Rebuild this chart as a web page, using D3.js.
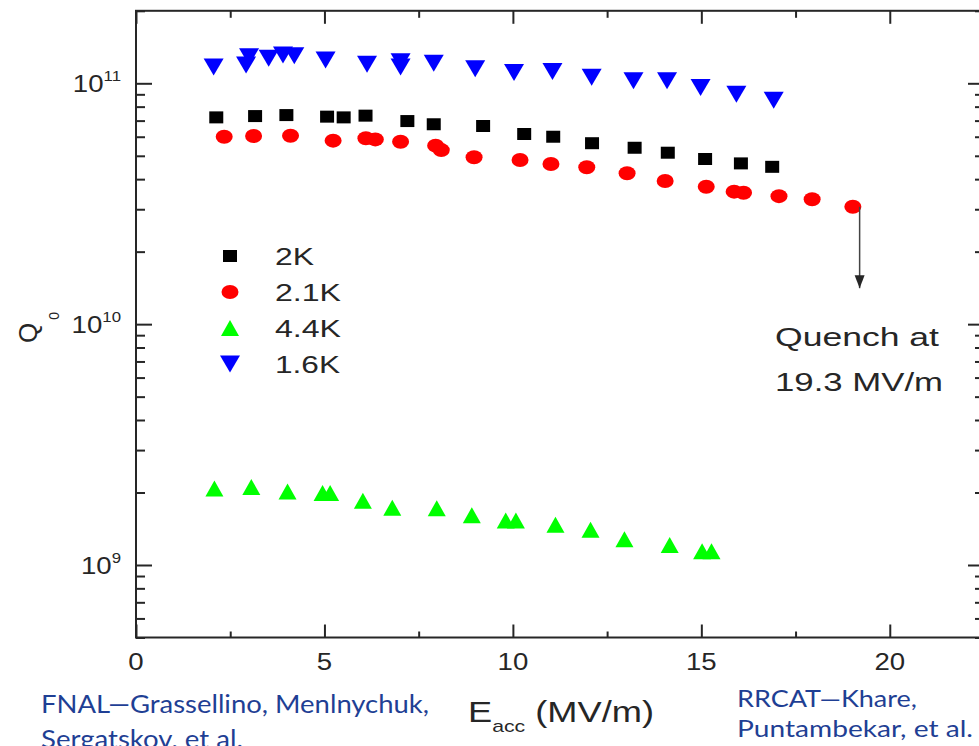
<!DOCTYPE html>
<html>
<head>
<meta charset="utf-8">
<script src="https://cdn.jsdelivr.net/npm/d3@7"></script>
<style>
  body { margin: 0; background: #fff; }
  svg { display: block; }
</style>
</head>
<body>
<div id="chart"></div>
<script>
// Q0 vs E_acc
const seriesNames = ["2K", "2.1K", "4.4K", "1.6K"];

const e2K = [2.13, 3.16, 3.99, 5.07, 5.51, 6.09, 7.2, 7.9, 9.21, 10.3, 11.07, 12.1, 13.23, 14.11, 15.1, 16.05, 16.88];
const q2K = [7.22e10, 7.31e10, 7.38e10, 7.27e10, 7.22e10, 7.34e10, 6.97e10, 6.76e10, 6.65e10, 6.16e10, 6.0e10, 5.64e10, 5.4e10, 5.15e10, 4.85e10, 4.65e10, 4.5e10];

const e21K = [2.34, 3.12, 4.1, 5.23, 6.1, 6.35, 7.02, 7.95, 8.1, 8.97, 10.19, 11.01, 11.96, 13.03, 14.04, 15.13, 15.87, 16.12, 17.06, 17.94, 19.02];
const q21K = [6.0e10, 6.04e10, 6.06e10, 5.78e10, 5.91e10, 5.85e10, 5.72e10, 5.51e10, 5.28e10, 4.93e10, 4.8e10, 4.62e10, 4.48e10, 4.23e10, 3.93e10, 3.72e10, 3.55e10, 3.51e10, 3.4e10, 3.3e10, 3.07e10];

const e44K = [2.08, 3.06, 4.02, 4.95, 5.15, 6.02, 6.8, 7.98, 8.91, 9.81, 10.08, 11.13, 12.06, 12.96, 14.16, 15.02, 15.27];
const q44K = [2.08e9, 2.11e9, 2.02e9, 1.99e9, 1.99e9, 1.85e9, 1.73e9, 1.72e9, 1.61e9, 1.53e9, 1.53e9, 1.47e9, 1.4e9, 1.28e9, 1.21e9, 1.14e9, 1.14e9];

const e16K = [2.06, 2.92, 3.0, 3.52, 3.9, 4.2, 5.03, 6.13, 7.02, 7.02, 7.9, 9.0, 10.03, 11.05, 12.09, 13.2, 14.09, 14.98, 15.93, 16.92];
const q16K = [1.17e11, 1.19e11, 1.29e11, 1.27e11, 1.31e11, 1.30e11, 1.25e11, 1.20e11, 1.23e11, 1.17e11, 1.21e11, 1.15e11, 1.11e11, 1.12e11, 1.06e11, 1.025e11, 1.025e11, 9.6e10, 9.0e10, 8.5e10];

const xTicks = [0, 5, 10, 15, 20];
const xMinorTicks = [2.5, 7.5, 12.5, 17.5];
const yTicks = [1e9, 1e10, 1e11];
const yExponents = ["9", "10", "11"];

// quench annotation (arrow from the last 2.1K point)
const quenchE = 19.2;
const quenchFrom = 3.07e10;
const quenchTo = 1.41e10;
const quenchText = ["Quench at", "19.3 MV/m"];

const captionLeft = ["FNAL\u2014Grassellino, Menlnychuk,", "Sergatskov, et al."];
const captionRight = ["RRCAT\u2014Khare,", "Puntambekar, et al."];

const seriesData = [
    {name: seriesNames[0], e: e2K, q: q2K},
    {name: seriesNames[1], e: e21K, q: q21K},
    {name: seriesNames[2], e: e44K, q: q44K},
    {name: seriesNames[3], e: e16K, q: q16K}
];

const width = 979;
const height = 746;
const ink = "#262626";
const font = "'Liberation Sans', Arial, sans-serif";
const sx = 1.2; // the original picture is stretched sideways

// look of each series
const style = {
    "2K":   {color: "#000000", shape: "M-7,-6H7V6H-7Z"},
    "2.1K": {color: "#ff0000", shape: "ellipse"},
    "4.4K": {color: "#00ff00", shape: "M0,-8L9,8H-9Z"},
    "1.6K": {color: "#0000ff", shape: "M-10,-8.5H10L0,8.5Z"}
};

const x = d3.scaleLinear().domain([0, 22.5]).range([136, 984]);
const y = d3.scaleLog().domain([5e8, 2e11]).range([637.5, 10.8]);

const svg = d3.select("#chart").append("svg")
    .attr("width", width)
    .attr("height", height)
    .attr("viewBox", [0, 0, width, height])
    .style("background", "#fff");

// ticks, all pointing inward
function ticks(axis, translate, size, values) {
    const g = svg.append("g")
        .attr("transform", translate)
        .call(axis.tickValues(values).tickSize(-size).tickSizeOuter(0).tickFormat(""));
    g.select(".domain").remove();
    g.selectAll(".tick line").attr("stroke", ink).attr("stroke-width", 2);
    return g;
}

const yMinorTicks = y.ticks().filter(v => !yTicks.includes(v));

ticks(d3.axisBottom(x), `translate(0,${y.range()[0]})`, 13, xTicks);
ticks(d3.axisBottom(x), `translate(0,${y.range()[0]})`, 6, xMinorTicks);
ticks(d3.axisTop(x), `translate(0,${y.range()[1]})`, 13, xTicks);
ticks(d3.axisTop(x), `translate(0,${y.range()[1]})`, 7, xMinorTicks);
ticks(d3.axisLeft(y), `translate(${x.range()[0]},0)`, 16, yTicks);
ticks(d3.axisLeft(y), `translate(${x.range()[0]},0)`, 9, yMinorTicks);
ticks(d3.axisRight(y), `translate(${x.range()[1]},0)`, 16, yTicks);
ticks(d3.axisRight(y), `translate(${x.range()[1]},0)`, 9, yMinorTicks);

// frame
svg.append("rect")
    .attr("x", x.range()[0])
    .attr("y", y.range()[1])
    .attr("width", x.range()[1] - x.range()[0])
    .attr("height", y.range()[0] - y.range()[1])
    .attr("fill", "none")
    .attr("stroke", ink)
    .attr("stroke-width", 2);

// x tick labels
svg.append("g")
    .selectAll("text")
    .data(xTicks)
    .join("text")
    .attr("transform", d => `translate(${x(d)},${y.range()[0] + 32}) scale(${sx},1)`)
    .attr("text-anchor", "middle")
    .attr("font-family", font)
    .attr("font-size", 23)
    .attr("fill", ink)
    .text(d => d);

// y tick labels with exponent
const yLab = svg.append("g")
    .selectAll("text")
    .data(yTicks)
    .join("text")
    .attr("transform", d => `translate(121,${y(d) + 9}) scale(${sx},1)`)
    .attr("text-anchor", "end")
    .attr("font-family", font)
    .attr("fill", ink);
yLab.append("tspan").attr("font-size", 23).text("10");
yLab.append("tspan").attr("font-size", 14).attr("dy", -11).text((d, i) => yExponents[i]);

// Q0 label
const qLab = svg.append("text")
    .attr("transform", "translate(37,343) rotate(-90)")
    .attr("font-family", font)
    .attr("fill", ink);
qLab.append("tspan").attr("font-size", 26).text("Q");
qLab.append("tspan").attr("font-size", 14).attr("dx", 3).attr("dy", 22).text("0");

// E_acc label
const eLab = svg.append("text")
    .attr("x", 468)
    .attr("y", 722)
    .attr("font-family", font)
    .attr("fill", ink)
    .attr("textLength", 186)
    .attr("lengthAdjust", "spacingAndGlyphs");
eLab.append("tspan").attr("font-size", 29).text("E");
eLab.append("tspan").attr("font-size", 17).attr("dy", 10).text("acc");
eLab.append("tspan").attr("font-size", 29).attr("dy", -10).text(" (MV/m)");

// points
function drawMarker(sel, s) {
    if (s.shape === "ellipse") {
        sel.append("ellipse").attr("rx", 8.5).attr("ry", 7).attr("fill", s.color);
    } else {
        sel.append("path").attr("d", s.shape).attr("fill", s.color);
    }
}

const serie = svg.append("g")
    .selectAll("g")
    .data(seriesData)
    .join("g");

serie.each(function (d) {
    const pts = d3.select(this)
        .selectAll("g")
        .data(d.e.map((e, i) => [e, d.q[i]]))
        .join("g")
        .attr("transform", p => `translate(${x(p[0])},${y(p[1])})`);
    drawMarker(pts, style[d.name]);
});

// legend
const legendRows = [256, 292, 328, 364];
const legendWidths = [39, 66, 66, 65];
const legend = svg.append("g")
    .selectAll("g")
    .data(seriesNames)
    .join("g")
    .attr("transform", (d, i) => `translate(230,${legendRows[i]})`);

legend.each(function (d) {
    drawMarker(d3.select(this), style[d]);
});

legend.append("text")
    .attr("x", 45)
    .attr("y", 8.5)
    .attr("font-family", font)
    .attr("font-size", 24)
    .attr("fill", ink)
    .attr("textLength", (d, i) => legendWidths[i])
    .attr("lengthAdjust", "spacingAndGlyphs")
    .text(d => d);

// quench arrow and note
svg.append("defs").append("marker")
    .attr("id", "head")
    .attr("viewBox", "0 0 10 12")
    .attr("refX", 5)
    .attr("refY", 12)
    .attr("markerWidth", 10)
    .attr("markerHeight", 12)
    .attr("markerUnits", "userSpaceOnUse")
    .attr("orient", "auto-start-reverse")
    .append("path")
    .attr("d", "M0,0L10,0L5,12Z")
    .attr("fill", ink);

svg.append("line")
    .attr("x1", x(quenchE))
    .attr("x2", x(quenchE))
    .attr("y1", y(quenchFrom))
    .attr("y2", y(quenchTo))
    .attr("stroke", "#444")
    .attr("stroke-width", 1.5);

svg.append("path")
    .attr("d", `M${x(quenchE) - 5},${y(quenchTo) - 13}h10l-5,13z`)
    .attr("fill", ink);

svg.append("g")
    .selectAll("text")
    .data(quenchText)
    .join("text")
    .attr("x", 775)
    .attr("y", (d, i) => 346 + i * 45)
    .attr("font-family", font)
    .attr("font-size", 26)
    .attr("fill", ink)
    .attr("textLength", (d, i) => [164, 168][i])
    .attr("lengthAdjust", "spacingAndGlyphs")
    .text(d => d);

// source captions
const capFont = "Lato, 'Open Sans', sans-serif";
const capColor = "#1f3f94";

svg.append("g")
    .selectAll("text")
    .data(captionLeft)
    .join("text")
    .attr("x", 41)
    .attr("y", (d, i) => 713 + i * 35)
    .attr("font-family", capFont)
    .attr("font-size", 25)
    .attr("fill", capColor)
    .attr("textLength", (d, i) => [388, 202][i])
    .attr("lengthAdjust", "spacingAndGlyphs")
    .text(d => d);

svg.append("g")
    .selectAll("text")
    .data(captionRight)
    .join("text")
    .attr("x", 737)
    .attr("y", (d, i) => 707 + i * 30)
    .attr("font-family", capFont)
    .attr("font-size", 23)
    .attr("fill", capColor)
    .attr("textLength", (d, i) => [180, 236][i])
    .attr("lengthAdjust", "spacingAndGlyphs")
    .text(d => d);
</script>
</body>
</html>
